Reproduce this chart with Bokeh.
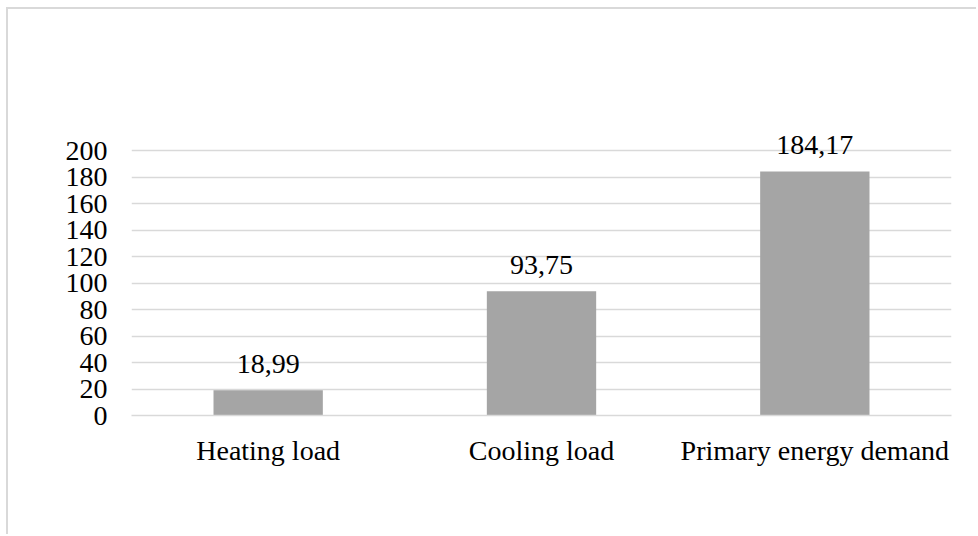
from bokeh.plotting import figure
from bokeh.models import ColumnDataSource, Range1d, FactorRange, FixedTicker, LabelSet
from bokeh.embed import file_html
from bokeh.resources import INLINE

categories = ["Heating load", "Cooling load", "Primary energy demand"]
values = [18.99, 93.75, 184.17]
y_ticks = [0, 20, 40, 60, 80, 100, 120, 140, 160, 180, 200]

labels = [f"{v:.2f}".replace(".", ",") for v in values]
src = ColumnDataSource(dict(cat=categories, val=values, lab=labels))

FONT = "Liberation Serif"
FS = "28px"

W, H = 970, 527
BOTTOM = 121
FRAME_H = H - BOTTOM          # frame spans from canvas top to the x axis
GRID_H = 265                  # pixel height of the 0..200 span
y_end = 200 * FRAME_H / GRID_H  # headroom so value labels are not clipped

p = figure(
    width=W, height=H,
    x_range=FactorRange(*categories, range_padding=0),
    y_range=Range1d(0, y_end),
    output_backend="svg", toolbar_location=None,
    min_border_left=123, min_border_right=27,
    min_border_top=0, min_border_bottom=BOTTOM,
)
p.styles = {
    "margin-left": "6px", "margin-top": "7px",
    "border-left": "2px solid #d9d9d9", "border-top": "2px solid #d9d9d9",
}
p.outline_line_color = None
p.background_fill_color = "white"
p.border_fill_color = "white"

p.vbar(x="cat", top="val", width=0.4, source=src,
       fill_color="#a5a5a5", line_color=None)

p.add_layout(LabelSet(x="cat", y="val", text="lab", source=src,
                      text_font=FONT, text_font_size=FS, text_color="#000000",
                      text_align="center", text_baseline="alphabetic", y_offset=17))

p.xgrid.grid_line_color = None
p.ygrid.grid_line_color = "#d9d9d9"
p.ygrid.grid_line_width = 1.3
p.yaxis.ticker = FixedTicker(ticks=y_ticks)

p.yaxis.axis_line_color = None
p.yaxis.major_tick_line_color = None
p.yaxis.minor_tick_line_color = None
p.yaxis.major_label_standoff = 18
p.yaxis.major_label_text_font = FONT
p.yaxis.major_label_text_font_size = FS
p.yaxis.major_label_text_color = "#000000"

p.xaxis.axis_line_color = "#d9d9d9"
p.xaxis.axis_line_width = 1.3
p.xaxis.major_tick_line_color = None
p.xaxis.minor_tick_line_color = None
p.xaxis.major_label_standoff = 13
p.xaxis.major_label_text_font = FONT
p.xaxis.major_label_text_font_size = FS
p.xaxis.major_label_text_color = "#000000"

open("out.html", "w").write(file_html(p, INLINE))
